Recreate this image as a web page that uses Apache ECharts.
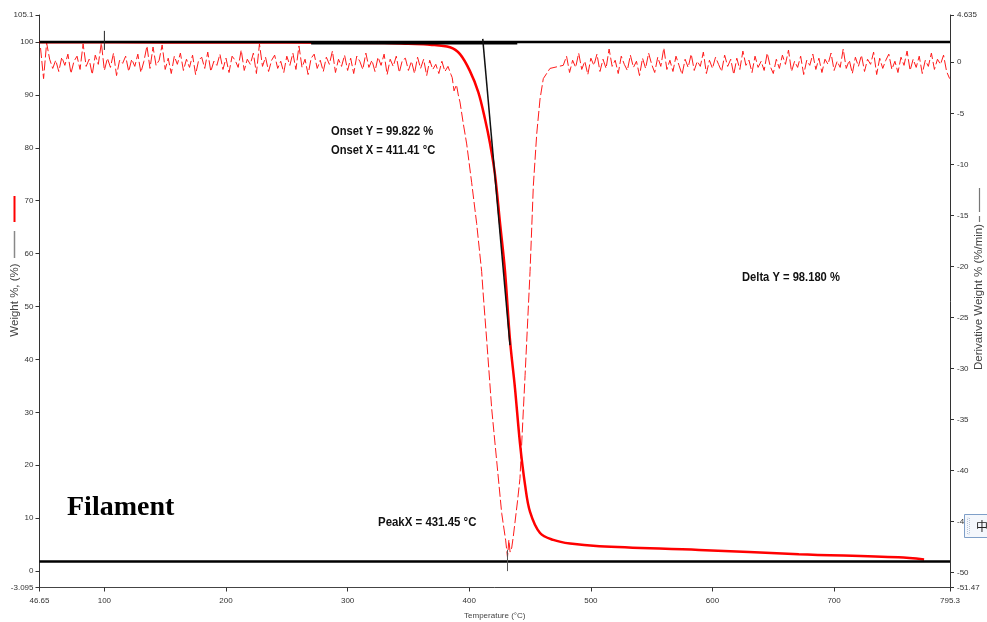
<!DOCTYPE html>
<html>
<head>
<meta charset="utf-8">
<script src="https://cdn.jsdelivr.net/npm/echarts@6/dist/echarts.min.js"></script>
<style>
  html, body { margin: 0; padding: 0; background: #fff; }
  #chart { width: 987px; height: 622px; }
</style>
</head>
<body>
<div id="chart"></div>
<script>
// ---- axis ticks ----
const tempTicks = [46.65, 100, 200, 300, 400, 500, 600, 700, 795.3];
const weightTicks = [-3.095, 0, 10, 20, 30, 40, 50, 60, 70, 80, 90, 100, 105.1];
const derivTicks = [-51.47, -50, -45, -40, -35, -30, -25, -20, -15, -10, -5, 0, 4.635];

// ---- axis titles ----
const tempTitle = 'Temperature (°C)';
const weightTitle = 'Weight %, (%)';
const derivTitle = 'Derivative Weight % (%/min)';

// ---- TGA weight curve: [temperature °C, weight %] ----
const weightCurve = [
  [46.65, 99.95], [150, 99.92], [250, 99.88], [330, 99.8], [350, 99.65],
  [367.7, 99.5], [384.2, 99.0], [392.4, 97.7], [400.6, 94.5], [407.5, 90.5],
  [413.0, 85.4], [417.1, 80.8], [421.2, 74.9], [425.3, 65.8], [429.4, 56.7],
  [433.5, 43.7], [437.6, 34.6], [441.7, 24.2], [445.9, 16.3], [450.0, 11.2],
  [458.2, 7.2], [469.1, 5.9], [482.9, 5.2], [507, 4.7], [589, 4.0],
  [671, 3.2], [753, 2.6], [774, 2.2]
];

// ---- derivative weight (%/min) ----
// baseline before decomposition, sampled every 2.5 °C from 47.5 °C
const derivLowStart = 47.5;
const derivLowStep = 2.5;
const derivLow = [
  1.4, -1.6, 1.9, 0.3, -0.6, 0.2, -0.9, 0.5, -0.3, 0.8,
  -1.1, 0.1, 0.6, -0.7, 1.8, -0.4, 0.3, -1.2, 0.7, -0.2,
  1.9, -0.8, 0.4, -0.5, 0.9, -1.3, 0.2, -0.1, 0.6, -0.9,
  0.3, -0.4, 0.8, -1.0, 0.1, 1.6, -0.6, 1.5, -0.3, 0.2,
  1.7, -0.7, 0.4, -1.1, 0.6, -0.2, 0.9, -0.8, 0.3, -0.5,
  0.7, -1.2, 0.2, 0.5, -0.6, 1.0, -0.9, 0.1, -0.3, 0.8,
  -0.7, 0.4, -1.0, 0.6, 0.2, -0.5, 1.2, -0.8, 0.3, -0.2,
  0.9, -1.1, 1.8, -0.4, 0.5, -0.9, 0.2, 0.7, -0.6, 0.1,
  -1.0, 0.6, -0.3, 0.9, -0.7, 1.6, -0.5, 0.3, -1.2, 0.4,
  0.8, -0.6, 0.2, -0.9, 0.5, -0.2, 1.1, -1.0, 0.3, -0.4,
  0.7, -0.8, 0.4, -1.1, 0.6, 0.1, -0.7, 0.9, -0.5, 0.2,
  -0.9, 0.5, -0.3, 0.8, -1.2, 0.3, -0.4, 0.6, -1.0, 0.2,
  0.4, -0.8, 0.1, -1.1, 0.5, -0.6, 0.3, -1.3, 0.2, -0.7,
  -0.2, -1.1, 0.1, -0.9, -0.4, -1.2
];
// the decomposition peak: [temperature °C, %/min]
const derivPeak = [
  [386.0, -1.5], [387.5, -2.8], [389.5, -2.2], [391.0, -3.2], [392.4, -3.9],
  [395.1, -6.0], [397.9, -8.0], [402.0, -11.8], [406.1, -15.8], [410.2, -20.5],
  [411.6, -22.9], [414.4, -27.3], [418.5, -34.0], [422.6, -39.1], [426.7, -44.2],
  [430.0, -46.9], [431.45, -48.5], [432.6, -46.8], [433.6, -48.0], [434.9, -47.6],
  [436.2, -46.5], [439.7, -43.0], [441.7, -40.8], [445.9, -30.7], [450.0, -20.5],
  [452.7, -12.1], [455.5, -7.0], [458.2, -3.6], [460.9, -1.6], [466.4, -0.6],
  [477.3, -0.3]
];
// residue baseline, sampled every 2.5 °C from 480 °C
const derivHighStart = 480;
const derivHighStep = 2.5;
const derivHigh = [
  0.6, -1.0, 0.2, -0.5, 0.9, -0.7,
  0.1, -1.2, 0.4, -0.3, 0.8, -0.9, 0.3, -0.6, 1.3, -0.4,
  0.2, -1.1, 0.6, -0.2, -0.8, 0.7, -0.5, 0.1, -1.3, 0.4,
  -0.6, 0.9, -0.2, -1.0, 0.5, -0.4, 1.4, -0.7, 0.2, -0.9,
  0.6, -0.3, -1.2, 0.3, -0.5, 0.8, -0.8, 0.1, -0.4, 1.0,
  -1.1, 0.2, -0.6, 0.5, -0.2, -0.9, 0.7, -0.4, 0.3, -1.2,
  0.4, -0.7, 1.1, -0.3, 0.2, -1.0, 0.6, -0.5, 0.1, -0.8,
  0.9, -0.4, -1.1, 0.3, -0.6, 0.7, -0.2, 1.2, -0.9, 0.1,
  -0.5, 0.6, -1.2, 0.2, -0.3, 0.8, -0.7, 0.4, -1.0, 0.3,
  -0.2, 0.9, -0.8, 0.1, -0.5, 1.3, -0.6, 0.2, -1.1, 0.5,
  -0.4, 0.7, -0.9, 0.3, -0.2, 1.0, -1.2, 0.4, -0.6, 0.2,
  0.8, -0.7, 0.1, -1.0, 0.5, -0.3, 1.1, -0.8, 0.3, -0.5,
  0.6, -1.1, 0.2, -0.4, 0.9, -0.7, 0.3, -0.2, 0.7, -0.9,
  -1.6
];

// ---- analysis results ----
const startWeight = 100;
const deltaY = 98.180;
const endWeight = startWeight - deltaY;
const onsetX = 411.41, onsetY = 99.822;
const peakX = 431.45;
const onsetBaseline = [[270, onsetY], [439.5, onsetY]];
const tangentLine = [[411.1, 100.6], [433.5, 42.7]];
const cursorMark = [[100, 102.1], [100, 98.5]];
const peakMark = [[peakX, 4.0], [peakX, 0]];

const derivData = [];
derivLow.forEach((v, i) => derivData.push([derivLowStart + i * derivLowStep, v]));
derivPeak.forEach(p => derivData.push(p));
derivHigh.forEach((v, i) => derivData.push([derivHighStart + i * derivHighStep, v]));

const chart = echarts.init(document.getElementById('chart'), null, { renderer: 'canvas', width: 987, height: 622 });

const sansFamily = '"Liberation Sans", Arial, sans-serif';
const tickLabel = { fontSize: 8, color: '#333', fontFamily: sansFamily };
const annoFont = 'bold 13px ' + sansFamily;
const titleFont = '11.5px ' + sansFamily;

function blackLine(data, width, color) {
  return {
    type: 'line', data: data, yAxisIndex: 0, symbol: 'none', silent: true,
    animation: false, lineStyle: { color: color || '#000', width: width }, z: 5
  };
}

chart.setOption({
  animation: false,
  backgroundColor: '#fff',
  grid: { left: 39.5, right: 37, top: 15, bottom: 34.5, containLabel: false, outerBoundsMode: 'none' },
  xAxis: {
    type: 'value', min: 46.65, max: 795.3,
    name: tempTitle, nameLocation: 'middle', nameGap: 24,
    nameTextStyle: { fontSize: 8, color: '#444', fontFamily: sansFamily },
    axisLine: { onZero: false, lineStyle: { color: '#444', width: 1 } },
    axisTick: { length: 4, customValues: tempTicks, lineStyle: { color: '#333' } },
    axisLabel: Object.assign({ customValues: tempTicks, margin: 9 }, tickLabel),
    splitLine: { show: false }
  },
  yAxis: [
    {
      type: 'value', position: 'left', min: -3.095, max: 105.1,
      axisLine: { show: true, onZero: false, lineStyle: { color: '#333', width: 1 } },
      axisTick: { show: true, length: 4, customValues: weightTicks, lineStyle: { color: '#333' } },
      axisLabel: Object.assign({ customValues: weightTicks, margin: 6 }, tickLabel),
      splitLine: { show: false }
    },
    {
      type: 'value', position: 'right', min: -51.47, max: 4.635,
      axisLine: { show: true, onZero: false, lineStyle: { color: '#333', width: 1 } },
      axisTick: { show: true, length: 4, customValues: derivTicks, lineStyle: { color: '#333' } },
      axisLabel: Object.assign({ customValues: derivTicks, margin: 7 }, tickLabel),
      splitLine: { show: false }
    }
  ],
  series: [
    {
      name: 'Derivative Weight', type: 'line', yAxisIndex: 1, data: derivData,
      symbol: 'none', silent: true, z: 2,
      lineStyle: { color: '#ff1a1a', width: 1, type: [10, 3] }
    },
    {
      name: 'Weight', type: 'line', yAxisIndex: 0, data: weightCurve,
      symbol: 'none', silent: true, smooth: 0.35, z: 3,
      lineStyle: { color: '#ff0000', width: 2.5 }
    },
    blackLine([[46.65, startWeight], [795.3, startWeight]], 2.5),
    blackLine([[46.65, endWeight], [795.3, endWeight]], 2.5),
    blackLine(onsetBaseline, 3),
    blackLine(tangentLine, 1.5, '#111'),
    blackLine(cursorMark, 1, '#222'),
    blackLine(peakMark, 1, '#555')
  ],
  graphic: [
    { type: 'text', x: 331, y: 131, scaleX: 0.86, style: { text: 'Onset Y = ' + onsetY.toFixed(3) + ' %', font: annoFont, fill: '#111', align: 'left', verticalAlign: 'middle' } },
    { type: 'text', x: 331, y: 150, scaleX: 0.86, style: { text: 'Onset X = ' + onsetX.toFixed(2) + ' °C', font: annoFont, fill: '#111', align: 'left', verticalAlign: 'middle' } },
    { type: 'text', x: 742, y: 277, scaleX: 0.86, style: { text: 'Delta Y = ' + deltaY.toFixed(3) + ' %', font: annoFont, fill: '#111', align: 'left', verticalAlign: 'middle' } },
    { type: 'text', x: 378, y: 522, scaleX: 0.88, style: { text: 'PeakX = ' + peakX.toFixed(2) + ' °C', font: annoFont, fill: '#111', align: 'left', verticalAlign: 'middle' } },
    { type: 'text', x: 67, y: 508, style: { text: 'Filament', font: 'bold 28px "Liberation Serif", "Times New Roman", serif', fill: '#000', align: 'left', verticalAlign: 'middle' } },
    // vertical axis titles, reading bottom to top
    { type: 'text', x: 15, y: 300, rotation: Math.PI / 2, style: { text: weightTitle, font: titleFont, fill: '#444', align: 'center', verticalAlign: 'middle' } },
    { type: 'text', x: 979, y: 297, rotation: Math.PI / 2, style: { text: derivTitle, font: titleFont, fill: '#444', align: 'center', verticalAlign: 'middle' } },
    // series keys beside the axis titles
    { type: 'line', shape: { x1: 14.5, y1: 196, x2: 14.5, y2: 222 }, style: { stroke: '#ff0000', lineWidth: 2 } },
    { type: 'line', shape: { x1: 14.5, y1: 231, x2: 14.5, y2: 258 }, style: { stroke: '#888', lineWidth: 1.5 } },
    { type: 'line', shape: { x1: 979.5, y1: 188, x2: 979.5, y2: 222 }, style: { stroke: '#777', lineWidth: 1.2, lineDash: [24, 4] } },
    // input-method indicator
    { type: 'rect', shape: { x: 964.5, y: 514.5, width: 30, height: 23 }, style: { fill: '#f4f7fc', stroke: '#7f9fc8', lineWidth: 1 }, z: 50 },
    { type: 'rect', shape: { x: 967.5, y: 518, width: 2, height: 16 }, style: { fill: 'none', stroke: '#b5c4d8', lineWidth: 1, lineDash: [1, 1] }, z: 51 },
    { type: 'text', x: 976, y: 526, style: { text: '中', font: '12px "Noto Sans CJK SC", sans-serif', fill: '#222', align: 'left', verticalAlign: 'middle' }, z: 51 }
  ]
});
</script>
</body>
</html>
